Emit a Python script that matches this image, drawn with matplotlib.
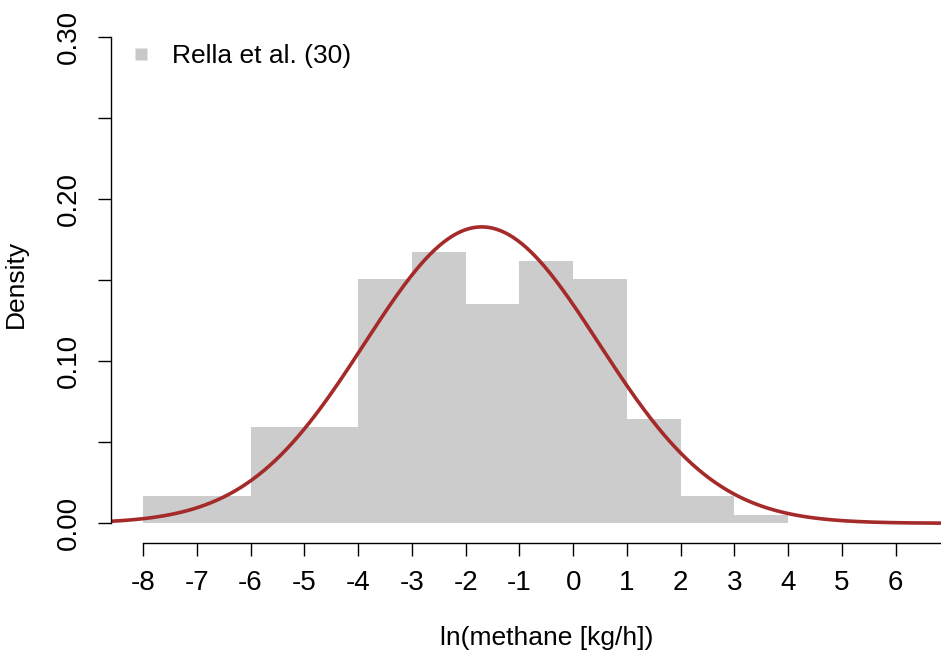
import numpy as np
import matplotlib
matplotlib.use("Agg")
import matplotlib.pyplot as plt
from matplotlib.lines import Line2D

# -------------------------------
# DATA
# -------------------------------
bin_edges = [-8, -6, -4, -3, -2, -1, 0, 1, 2, 3, 4]
bin_density = [0.0169, 0.0593, 0.1506, 0.1673, 0.1352, 0.1619, 0.1506, 0.0646, 0.0169, 0.005]

# normal fit drawn over the histogram
fit_mean = -1.70
fit_sd = 2.18

x_ticks = list(range(-8, 8))
x_ticklabels = [str(t) for t in range(-8, 7)] + [""]  # "7" falls off the crop
y_ticks = [0.0, 0.05, 0.10, 0.15, 0.20, 0.25, 0.30]
y_ticklabels = ["0.00", "", "0.10", "", "0.20", "", "0.30"]

legend_label = "Rella et al. (30)"

# -------------------------------
# FIGURE
# -------------------------------
plt.rcParams["font.family"] = ["Liberation Sans", "DejaVu Sans"]

fig = plt.figure(figsize=(9.41, 6.55), dpi=100)
W, H = 941, 655
# plot region in pixels (R style, runs past the right edge)
left_px, right_px, top_px, bottom_px = 110.7, 981.8, 18.0, 542.7
ax = fig.add_axes([left_px / W, 1 - bottom_px / H,
                   (right_px - left_px) / W, (bottom_px - top_px) / H])

edges = np.array(bin_edges, dtype=float)
ax.bar(edges[:-1], bin_density, width=np.diff(edges), align="edge",
       color="#CCCCCC", edgecolor="none", zorder=1)

xs = np.linspace(-8.6, 7.6, 600)
ys = np.exp(-0.5 * ((xs - fit_mean) / fit_sd) ** 2) / (fit_sd * np.sqrt(2 * np.pi))
ax.plot(xs, ys, color="#A52A2A", lw=2.6, zorder=2)

ax.set_xlim(-8.6, 7.6)
ax.set_ylim(-0.012, 0.312)

# axes like base R
for s in ["top", "right"]:
    ax.spines[s].set_visible(False)
ax.spines["left"].set_bounds(0, 0.30)
ax.spines["bottom"].set_bounds(-8, 7)
ax.spines["left"].set_linewidth(1.0)
ax.spines["bottom"].set_linewidth(1.0)

ax.set_xticks(x_ticks)
ax.set_xticklabels(x_ticklabels)
ax.set_yticks(y_ticks)
ax.set_yticklabels(y_ticklabels, rotation=90, va="center")
ax.tick_params(axis="both", length=9.4, width=1.0, labelsize=20, color="black")
ax.tick_params(axis="x", pad=10)
ax.tick_params(axis="y", pad=11)

ax.set_xlabel("ln(methane [kg/h])", fontsize=19, labelpad=22)
fig.text(16 / W, 1 - 284 / H, "Density", rotation=90, fontsize=19,
         ha="center", va="center")

handle = Line2D([], [], marker="s", linestyle="none", markersize=8.6,
                markerfacecolor="#C8C8C8", markeredgecolor="none")
ax.legend([handle], [legend_label], loc="center left",
          bbox_to_anchor=(115 / W, 1 - 56 / H), bbox_transform=fig.transFigure,
          frameon=False, fontsize=19, handletextpad=0.55, handlelength=1.2,
          borderaxespad=0)

fig.savefig("out.png", dpi=100)
